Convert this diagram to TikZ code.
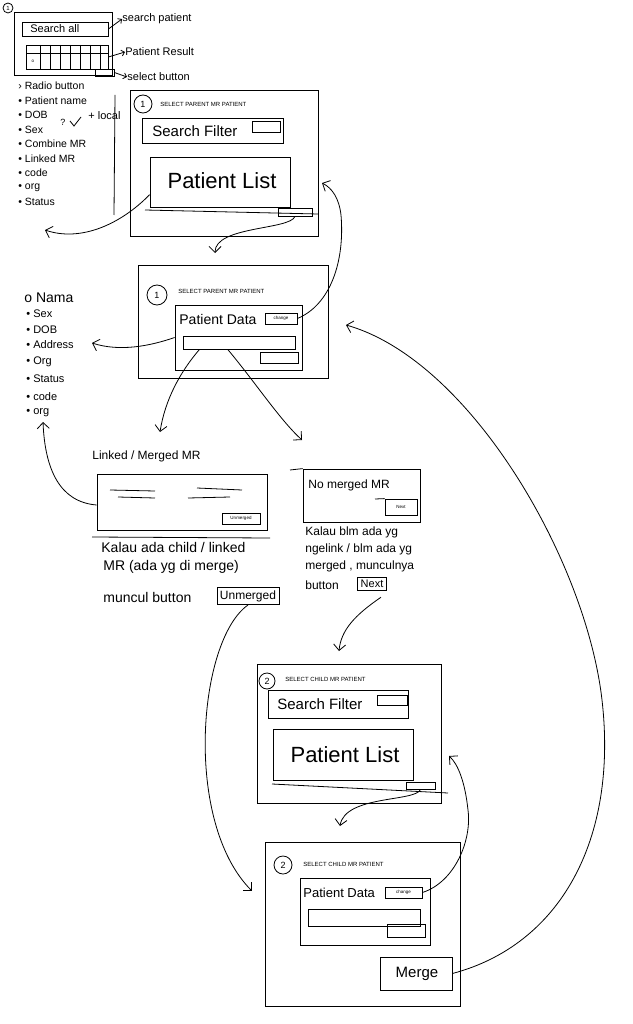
\documentclass[tikz,border=0pt]{standalone}
\usepackage{fontspec}
\setmainfont{Liberation Sans}
\usetikzlibrary{arrows.meta,fit,calc}

\begin{document}
\begin{tikzpicture}[x=1pt,y=-1pt,line width=0.8pt,
    >={Straight Barb[length=6pt,width=12pt]},
    frame/.style={draw,inner sep=0pt},
    hand/.style={anchor=west,inner sep=0pt,font=\fontsize{11}{12}\selectfont},
    big/.style={inner sep=0pt,font=\fontsize{#1}{#1}\selectfont},
    title/.style={anchor=west,inner sep=0pt,font=\fontsize{6}{7}\selectfont},
    tiny/.style={inner sep=0pt,font=\fontsize{4.5}{5}\selectfont},
    num/.style={draw,circle,minimum size=#1,inner sep=0pt,font=\fontsize{9}{9}\selectfont},
    ptr/.style={-{Straight Barb[length=3pt,width=6pt]}}]

  \useasboundingbox (0,0) rectangle (632,1024);

  % overview sketch
  \node[num=10pt,font=\fontsize{6}{6}\selectfont] (n0) at (8,8) {1};
  \node[frame,fit={(14,12) (112,75)}] (wide) {};
  \node[frame,fit={(22,22) (108,36)}] (srch) {};
  \node[hand] at (30,29) {Search all};
  \node[frame,fit={(26,45) (108,69)}] (grid) {};
  \draw (26,53) -- (108,53);
  \foreach \x in {40,50,...,100} \draw (\x,45) -- (\x,69);
  \node[tiny] at (33,61) {o};
  \node[frame,fit={(95,69) (114,76)}] (selbtn) {};
  \node[hand] (lsearch) at (122,19) {search patient};
  \node[hand] (lresult) at (125,52) {Patient Result};
  \node[hand] (lselect) at (127,77) {select button};
  \draw[ptr] (srch.east) -- (lsearch.west);
  \draw[ptr] (grid.east) -- (lresult.west);
  \draw[ptr] (selbtn.east) -- (lselect.west);

  % fields of the result table
  \foreach \b/\t [count=\i] in {›/Radio button,•/Patient name,•/DOB,•/Sex,•/Combine MR,•/Linked MR,•/code,•/org,•/Status}
    \node[hand,font=\fontsize{10.5}{11}\selectfont] (fa\i) at (18,{86+14.5*(\i-1)}) {\b\ \t};
  \node[hand,font=\fontsize{9}{10}\selectfont] (qs) at (60,122) {?};
  \draw (70,121) -- (74,126) -- (81,117);
  \node[hand] (loc) at (88,116) {+ local};
  \draw (115,95) -- (114,215);

  % step 1: search parent
  \node[frame,fit={(130,90) (318,236)}] (scrA) {};
  \node[num=18pt] (numA) at (143,104) {1};
  \node[title] (ttlA) at (160,104) {SELECT PARENT MR PATIENT};
  \node[frame,fit={(142,118) (283,143)}] (sfA) {};
  \node[hand,font=\fontsize{15}{15}\selectfont] at (152,131) {Search Filter};
  \node[frame,fit={(252,121) (280,132)}] (sbA) {};
  \node[frame,fit={(150,157) (290,207)}] (plA) {};
  \node[big=22] at (222,181) {Patient List};
  \draw (145,210) -- (318,214);
  \node[frame,fit={(278,208) (312,216)}] (nbA) {};
  \coordinate (fieldsA) at (45,230);
  \draw[->] ($(plA.west)!0.5!(plA.south west)$) .. controls (120,225) and (80,242) .. (fieldsA);
  \coordinate (topB) at (215,253);
  \draw[->] (nbA.south) .. controls (290,230) and (215,226) .. (topB);

  % step 1: parent chosen
  \node[frame,fit={(138,265) (328,378)}] (scrB) {};
  \node[num=20pt] (numB) at (157,295) {1};
  \node[title] (ttlB) at (178,291) {SELECT PARENT MR PATIENT};
  \node[frame,fit={(175,305) (302,370)}] (pdB) {};
  \node[hand,font=\fontsize{14}{14}\selectfont] at (179,319) {Patient Data};
  \node[frame,fit={(265,313) (297,324)}] (chB) {};
  \node[tiny] at (chB) {change};
  \node[frame,fit={(183,336) (295,349)}] (fdB) {};
  \node[frame,fit={(260,352) (298,363)}] (smB) {};
  \coordinate (sideA) at (322,183);
  \draw[->] (chB.east) .. controls (330,305) and (345,262) .. (341,215) .. controls (339,198) and (332,188) .. (sideA);

  % fields of the parent data
  \node[hand,font=\fontsize{14}{14}\selectfont] (fb1) at (24,298) {o Nama};
  \foreach \t/\y [count=\i from 2] in {Sex/314,DOB/330,Address/345,Org/362,Status/379,code/397,org/413}
    \node[hand,font=\fontsize{11}{12}\selectfont] (fb\i) at (26,\y) {• \t};
  \coordinate (fieldsB) at (92,343);
  \draw[->] (pdB.west) .. controls (150,346) and (120,352) .. (fieldsB);

  % linked or merged MR
  \node[hand,font=\fontsize{12}{12}\selectfont] (lmT) at (92,456) {Linked / Merged MR};
  \node[frame,fit={(97,474) (267,530)}] (lmBox) {};
  \draw (110,490) -- (155,491) (118,497) -- (155,498) (197,488) -- (242,490) (188,498) -- (230,497);
  \node[frame,fit={(222,513) (260,524)}] (umB) {};
  \node[tiny] at (umB) {Unmerged};
  \draw (92,537) -- (270,538);
  \node[hand,font=\fontsize{14}{14}\selectfont] (lmt1) at (101,547) {Kalau ada child / linked};
  \node[hand,font=\fontsize{14}{14}\selectfont] (lmt2) at (103,567) {MR (ada yg di merge)};
  \node[hand,font=\fontsize{14}{14}\selectfont] (lmt3) at (103,597) {muncul button};
  \node[draw,inner sep=3pt,font=\fontsize{12}{12}\selectfont] (umBtn) at (248,596) {Unmerged};
  \coordinate (fieldsEnd) at (43,422);
  \draw[->] ($(lmBox.west)+(0,3)$) .. controls (60,502) and (45,470) .. (fieldsEnd);
  \coordinate (linkTop) at (160,432);
  \draw[->] ($(fdB.south west)!0.15!(fdB.south east)$) .. controls (180,372) and (165,400) .. (linkTop);

  % no merged MR
  \node[frame,fit={(303,469) (420,522)}] (nmBox) {};
  \draw (290,470) -- (nmBox.north west);
  \node[hand,font=\fontsize{12}{12}\selectfont] (nmT) at (308,485) {No merged MR};
  \node[frame,fit={(385,499) (417,515)}] (nxB) {};
  \node[tiny] at (nxB) {Next};
  \draw (375,499) -- (nxB.north west);
  \node[hand,font=\fontsize{12}{12}\selectfont] (nmt1) at (305,532) {Kalau blm ada yg};
  \node[hand,font=\fontsize{12}{12}\selectfont] (nmt2) at (305,549) {ngelink / blm ada yg};
  \node[hand,font=\fontsize{12}{12}\selectfont] (nmt3) at (305,566) {merged , munculnya};
  \node[hand,font=\fontsize{12}{12}\selectfont] (nmt4) at (305,585) {button};
  \node[draw,inner sep=3pt,font=\fontsize{11}{11}\selectfont] (nxBtn) at (372,584) {Next};
  \coordinate (nomTop) at (302,440);
  \draw[->] ($(fdB.south west)!0.4!(fdB.south east)$) .. controls (255,382) and (280,420) .. (nomTop);
  \coordinate (topC) at (339,651);
  \draw[->] ($(nxBtn.south)+(9,6)$) .. controls (355,615) and (341,630) .. (topC);

  % step 2: search child
  \node[frame,fit={(257,664) (441,803)}] (scrC) {};
  \node[num=16pt] (numC) at (267,681) {2};
  \node[title] (ttlC) at (285,679) {SELECT CHILD MR PATIENT};
  \node[frame,fit={(268,690) (408,718)}] (sfC) {};
  \node[hand,font=\fontsize{15}{15}\selectfont] at (277,704) {Search Filter};
  \node[frame,fit={(377,695) (407,705)}] (sbC) {};
  \node[frame,fit={(273,729) (413,780)}] (plC) {};
  \node[big=22] at (345,755) {Patient List};
  \draw (272,784) -- (448,793);
  \node[frame,fit={(406,782) (435,789)}] (nbC) {};
  \coordinate (topD) at (340,826);
  \draw[->] (nbC.south) .. controls (416,802) and (345,795) .. (topD);

  % step 2: child chosen
  \node[frame,fit={(265,842) (460,1006)}] (scrD) {};
  \node[num=18pt] (numD) at (283,865) {2};
  \node[title] (ttlD) at (303,864) {SELECT CHILD MR PATIENT};
  \node[frame,fit={(300,878) (430,945)}] (pdD) {};
  \node[hand,font=\fontsize{13}{13}\selectfont] at (303,893) {Patient Data};
  \node[frame,fit={(385,887) (422,898)}] (chD) {};
  \node[tiny] at (chD) {change};
  \node[frame,fit={(308,909) (420,926)}] (fdD) {};
  \node[frame,fit={(387,924) (425,937)}] (smD) {};
  \node[frame,fit={(380,957) (452,990)}] (mgB) {};
  \node[big=15] at (417,974) {Merge};
  \coordinate (sideC) at (449,756);
  \draw[->] (chD.east) .. controls (455,882) and (472,840) .. (468,810) .. controls (465,782) and (458,764) .. (sideC);
  \coordinate (sideB) at (346,325);
  \draw[->] (mgB.east) .. controls (560,945) and (618,840) .. (602,700) .. controls (586,560) and (470,360) .. (sideB);
  \coordinate (sideD) at (252,891);
  \draw[->] (umBtn.south) .. controls (198,640) and (183,822) .. (sideD);

\end{tikzpicture}
\end{document}
